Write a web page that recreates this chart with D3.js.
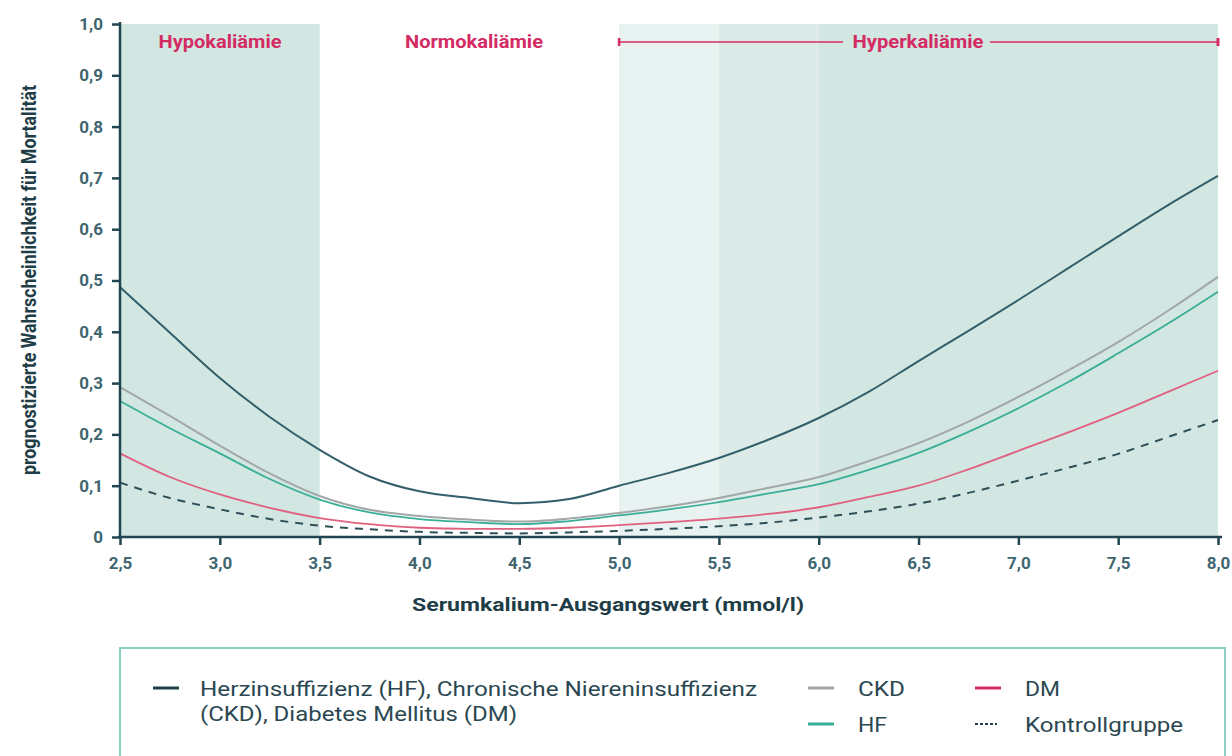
<!DOCTYPE html>
<html>
<head>
<meta charset="utf-8">
<script src="https://cdn.jsdelivr.net/npm/d3@7"></script>
<style>
  body { margin: 0; background: #fff; }
  svg { font-family: "Roboto", sans-serif; }
</style>
</head>
<body>
<div id="chart"></div>
<script>
// Serumkalium (mmol/l)
const kalium = [2.5, 2.75, 3.0, 3.25, 3.5, 3.75, 4.0, 4.25, 4.5, 4.75, 5.0, 5.25, 5.5, 5.75, 6.0, 6.25, 6.5, 6.75, 7.0, 7.25, 7.5, 7.75, 8.0];

// predicted probability of mortality per group
const hfCkdDm = [0.487, 0.398, 0.310, 0.234, 0.170, 0.118, 0.089, 0.076, 0.066, 0.074, 0.100, 0.125, 0.154, 0.190, 0.232, 0.283, 0.343, 0.402, 0.462, 0.524, 0.586, 0.647, 0.704];
const ckd     = [0.292, 0.236, 0.178, 0.124, 0.080, 0.053, 0.041, 0.034, 0.030, 0.036, 0.047, 0.060, 0.076, 0.096, 0.117, 0.148, 0.183, 0.225, 0.273, 0.325, 0.380, 0.441, 0.507];
const hf      = [0.265, 0.212, 0.163, 0.113, 0.073, 0.048, 0.035, 0.029, 0.025, 0.031, 0.042, 0.054, 0.068, 0.085, 0.103, 0.131, 0.164, 0.205, 0.251, 0.302, 0.358, 0.416, 0.478];
const dm      = [0.163, 0.117, 0.083, 0.057, 0.037, 0.025, 0.018, 0.016, 0.016, 0.018, 0.023, 0.029, 0.036, 0.045, 0.058, 0.078, 0.100, 0.132, 0.168, 0.204, 0.242, 0.283, 0.324];
const kontrolle = [0.106, 0.076, 0.054, 0.035, 0.022, 0.015, 0.010, 0.008, 0.007, 0.009, 0.012, 0.016, 0.021, 0.028, 0.038, 0.050, 0.065, 0.086, 0.110, 0.135, 0.162, 0.195, 0.228];

const xTicks = [2.5, 3.0, 3.5, 4.0, 4.5, 5.0, 5.5, 6.0, 6.5, 7.0, 7.5, 8.0];
const yTicks = [0, 0.1, 0.2, 0.3, 0.4, 0.5, 0.6, 0.7, 0.8, 0.9, 1.0];

// shaded ranges [from, to]
const zones = [
  { from: 2.5, to: 3.5, fill: "#d2e6e2" },
  { from: 5.0, to: 5.5, fill: "#e8f2f0" },
  { from: 5.5, to: 6.0, fill: "#dcebe8" },
  { from: 6.0, to: 8.0, fill: "#d2e6e2" }
];

const width = 1232;
const height = 756;
const margin = { top: 24, right: 14, bottom: 219, left: 120 };

const svg = d3.select("#chart")
  .append("svg")
  .attr("width", width)
  .attr("height", height);

const x = d3.scaleLinear()
  .domain([2.5, 8.0])
  .range([margin.left, 1218]);

const y = d3.scaleLinear()
  .domain([0, 1])
  .range([537, margin.top]);

const comma = d => d === 0 ? "0" : d.toFixed(1).replace(".", ",");

// background zones
svg.append("g")
  .selectAll("rect")
  .data(zones)
  .join("rect")
  .attr("x", d => x(d.from))
  .attr("y", y(1))
  .attr("width", d => x(d.to) - x(d.from))
  .attr("height", y(0) - y(1))
  .attr("fill", d => d.fill);

// zone labels
const pink = "#d42b64";
const zoneLabel = (cx, txt, len) => svg.append("text")
  .attr("x", cx).attr("y", 48)
  .attr("text-anchor", "middle")
  .attr("fill", pink).attr("font-weight", "bold").attr("font-size", "18px")
  .attr("textLength", len).attr("lengthAdjust", "spacingAndGlyphs")
  .text(txt);

zoneLabel(220, "Hypokaliämie", 123);
zoneLabel(474, "Normokaliämie", 138);
zoneLabel(918, "Hyperkaliämie", 131);

const bracket = svg.append("g").attr("stroke", pink).attr("stroke-width", 1.5);
bracket.append("line").attr("x1", x(5.0)).attr("x2", 843).attr("y1", 42).attr("y2", 42);
bracket.append("line").attr("x1", 990).attr("x2", x(8.0)).attr("y1", 42).attr("y2", 42);
bracket.append("line").attr("x1", x(5.0)).attr("x2", x(5.0)).attr("y1", 38).attr("y2", 46).attr("stroke-width", 2.5);
bracket.append("line").attr("x1", x(8.0)).attr("x2", x(8.0)).attr("y1", 38).attr("y2", 46).attr("stroke-width", 3);

// lines
const series = [
  { values: kontrolle, color: "#2f4f58", dash: "8,7", w: 2 },
  { values: dm, color: "#e0617f", dash: null, w: 1.8 },
  { values: hf, color: "#3aae97", dash: null, w: 1.8 },
  { values: ckd, color: "#a2a7a8", dash: null, w: 2 },
  { values: hfCkdDm, color: "#335f6a", dash: null, w: 2 }
];

const line = d3.line()
  .x((d, i) => x(kalium[i]))
  .y(d => y(d))
  .curve(d3.curveMonotoneX);

svg.append("g")
  .selectAll("path")
  .data(series)
  .join("path")
  .attr("d", d => line(d.values))
  .attr("fill", "none")
  .attr("stroke", d => d.color)
  .attr("stroke-width", d => d.w)
  .attr("stroke-dasharray", d => d.dash);

// axes
const axisColor = "#1f4651";
const tickColor = "#3f6670";

const xAxis = g => g
  .attr("transform", `translate(0,${y(0)})`)
  .call(d3.axisBottom(x).tickValues(xTicks).tickFormat(comma).tickSize(8).tickSizeOuter(0).tickPadding(12))
  .call(g => g.select(".domain").attr("stroke", axisColor).attr("stroke-width", 2.5).attr("d", `M${x(2.5) - 2},0H${x(8.0) + 4}`))
  .call(g => g.selectAll(".tick line").attr("stroke", axisColor).attr("stroke-width", 2.5))
  .call(g => g.selectAll("text").attr("fill", tickColor).attr("font-size", "17px").attr("font-weight", "bold").attr("font-family", "Roboto"));

const yAxis = g => g
  .attr("transform", `translate(${x(2.5)},0)`)
  .call(d3.axisLeft(y).tickValues(yTicks).tickFormat(comma).tickSize(8).tickSizeOuter(0).tickPadding(9))
  .call(g => g.select(".domain").attr("stroke", axisColor).attr("stroke-width", 2.5).attr("d", `M0,${y(1) - 2}V${y(0)}`))
  .call(g => g.selectAll(".tick line").attr("stroke", axisColor).attr("stroke-width", 2.5))
  .call(g => g.selectAll("text").attr("fill", tickColor).attr("font-size", "17px").attr("font-weight", "bold").attr("font-family", "Roboto"));

svg.append("g").call(xAxis);
svg.append("g").call(yAxis);

// axis titles
svg.append("text")
  .attr("x", 608).attr("y", 611)
  .attr("text-anchor", "middle")
  .attr("fill", "#1e3d47").attr("font-weight", "bold").attr("font-size", "19px")
  .attr("textLength", 392).attr("lengthAdjust", "spacingAndGlyphs")
  .text("Serumkalium-Ausgangswert (mmol/l)");

svg.append("text")
  .attr("transform", "translate(36,280) rotate(-90)")
  .attr("text-anchor", "middle")
  .attr("fill", "#1e3d47").attr("font-weight", "bold").attr("font-size", "21px")
  .attr("textLength", 390).attr("lengthAdjust", "spacingAndGlyphs")
  .text("prognostizierte Wahrscheinlichkeit für Mortalität");

// legend
const legend = svg.append("g");
legend.append("rect")
  .attr("x", 120).attr("y", 648)
  .attr("width", 1105).attr("height", 130)
  .attr("fill", "none").attr("stroke", "#8fcfc3").attr("stroke-width", 2);

const legendItems = [
  { color: "#1f3f48", dash: null, lx: 153, ly: 688, text: ["Herzinsuffizienz (HF), Chronische Niereninsuffizienz", "(CKD), Diabetes Mellitus (DM)"], tl: [557, 317] },
  { color: "#a2a7a8", dash: null, lx: 808, ly: 688, text: ["CKD"], tl: [47] },
  { color: "#3aae97", dash: null, lx: 808, ly: 724, text: ["HF"], tl: [29] },
  { color: "#d42b64", dash: null, lx: 975, ly: 688, text: ["DM"], tl: [35] },
  { color: "#1f3f48", dash: "3,2", lx: 975, ly: 724, text: ["Kontrollgruppe"], tl: [158] }
];

legendItems.forEach(d => {
  legend.append("line")
    .attr("x1", d.lx).attr("x2", d.lx + (d.dash ? 22 : 26))
    .attr("y1", d.ly).attr("y2", d.ly)
    .attr("stroke", d.color)
    .attr("stroke-width", d.dash ? 2 : 3)
    .attr("stroke-dasharray", d.dash);
  d.text.forEach((t, i) => {
    const txt = legend.append("text")
      .attr("x", d.lx + (d.lx === 153 ? 47 : 50))
      .attr("y", d.ly + 8 + i * 25)
      .attr("fill", "#2b4852")
      .attr("font-size", "21px")
      .text(t);
    if (d.tl[i]) txt.attr("textLength", d.tl[i]).attr("lengthAdjust", "spacingAndGlyphs");
  });
});
</script>
</body>
</html>
